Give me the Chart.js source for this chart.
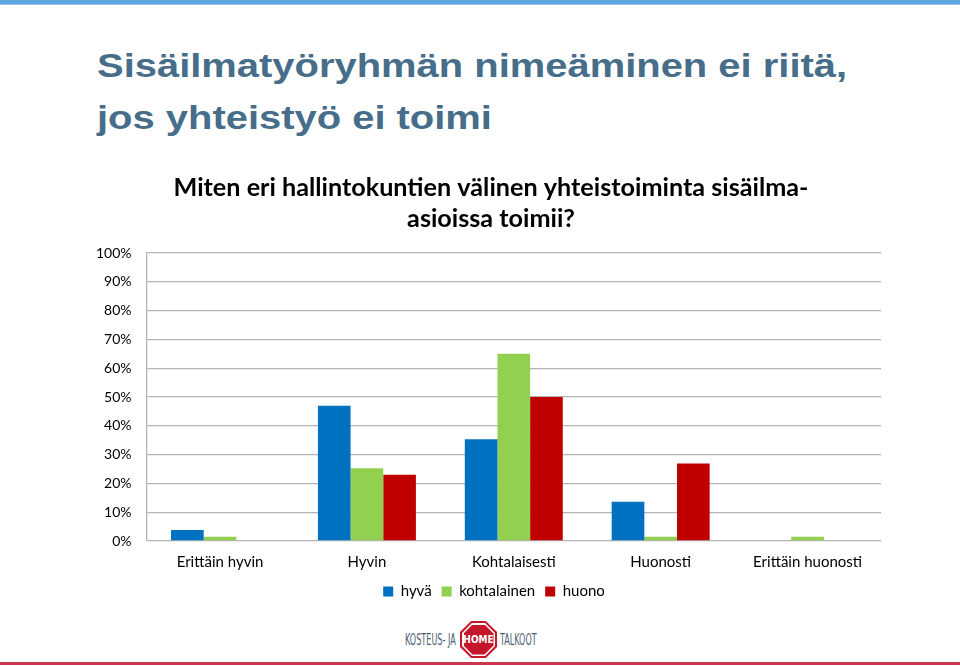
<!DOCTYPE html>
<html>
<head>
<meta charset="utf-8">
<script src="https://cdn.jsdelivr.net/npm/chart.js@4"></script>
<style>
  html, body { margin:0; padding:0; background:#fff; }
  body { width:960px; height:666px; position:relative; overflow:hidden; }
  #topbar { position:absolute; left:0; top:0; width:960px; height:4px; background:#5fa6e3; border-bottom:1px solid #9cc6ec; }
  #title { position:absolute; left:97px; top:40px; font-family:"Liberation Sans", Arial, sans-serif; font-weight:bold; font-size:33px; line-height:52px; color:#466d89; margin:0; white-space:nowrap; transform:scaleX(1.21); transform-origin:left top; }
  #wrap { position:absolute; left:0; top:170px; width:960px; height:448px; }
  .lt { position:absolute; top:630px; font-family:"Liberation Sans Narrow","DejaVu Sans Condensed",sans-serif; color:#4d5e70; font-size:15px; line-height:20px; transform:scaleX(0.6); transform-origin:left center; white-space:nowrap; }
  .oct { position:absolute; left:460px; top:621px; width:37px; height:37px; clip-path:polygon(30% 0,70% 0,100% 30%,100% 70%,70% 100%,30% 100%,0 70%,0 30%); background:#c4172c; }
  .oct .ring { position:absolute; left:2px; top:2px; width:33px; height:33px; clip-path:polygon(30% 0,70% 0,100% 30%,100% 70%,70% 100%,30% 100%,0 70%,0 30%); background:#fff; }
  .oct .in { position:absolute; left:3.5px; top:3.5px; width:30px; height:30px; clip-path:polygon(30% 0,70% 0,100% 30%,100% 70%,70% 100%,30% 100%,0 70%,0 30%); background:#c4172c; color:#fff; font-family:"Liberation Sans Narrow","DejaVu Sans Condensed",sans-serif; font-weight:bold; font-size:10px; display:flex; align-items:center; justify-content:center; }
  #bottomline { position:absolute; left:0; top:662px; width:960px; height:3px; background:#c8374b; }
</style>
</head>
<body>
<div id="topbar"></div>
<h1 id="title">Sisäilmatyöryhmän nimeäminen ei riitä,<br>jos yhteistyö ei toimi</h1>
<div id="wrap"><canvas id="c"></canvas></div>
<span class="lt" style="left:405px;">KOSTEUS- JA</span>
<div class="oct"><div class="ring"></div><div class="in">HOME</div></div>
<span class="lt" style="left:500px;">TALKOOT</span>
<div id="bottomline"></div>
<script>
const categories = ["Erittäin hyvin", "Hyvin", "Kohtalaisesti", "Huonosti", "Erittäin huonosti"];
const seriesNames = ["hyvä", "kohtalainen", "huono"];
const hyva = [3.8, 47, 35.3, 13.6, 0];
const kohtalainen = [1.5, 25.3, 65, 1.5, 1.5];
const huono = [0, 23, 50, 26.9, 0];
const yTicks = [0, 10, 20, 30, 40, 50, 60, 70, 80, 90, 100];
const colors = ["#0070c0", "#92d050", "#c00000"];

const chartFont = "Lato, 'Open Sans', sans-serif";
const blockShift = {
  id: 'blockShift',
  afterLayout(chart) {
    const lg = chart.legend;
    if (lg) { lg.top -= 9; lg.bottom -= 9; lg.left += 13; lg.right += 13; }
    const tb = chart.titleBlock;
    if (tb) { tb.left += 10; tb.right += 10; }
  }
};
new Chart(document.getElementById('c'), {
  type: 'bar',
  data: {
    labels: categories,
    datasets: [hyva, kohtalainen, huono].map((d, i) => ({
      label: seriesNames[i], data: d, backgroundColor: colors[i], borderWidth: 0,
      barPercentage: 1.0, categoryPercentage: 0.667
    }))
  },
  plugins: [blockShift],
  options: {
    responsive: true, maintainAspectRatio: false, animation: false,
    layout: { padding: { left: 81, right: 79, top: 0, bottom: 0 } },
    plugins: {
      title: {
        display: true,
        text: ["Miten eri hallintokuntien välinen yhteistoiminta sisäilma-", "asioissa toimii?"],
        color: "#000", font: { family: chartFont, size: 25.2, weight: 'bold', lineHeight: 1.25 },
        padding: { top: 2, bottom: 18 }
      },
      legend: {
        position: 'bottom',
        labels: { color: "#000", boxWidth: 10, boxHeight: 10, padding: 10, font: { family: chartFont, size: 15 } }
      },
      tooltip: { enabled: false }
    },
    scales: {
      x: {
        grid: { display: false, drawTicks: false },
        border: { display: false },
        ticks: { color: "#000", padding: 12, font: { family: chartFont, size: 15 } }
      },
      y: {
        min: 0, max: 100,
        afterBuildTicks: (axis) => { axis.ticks = yTicks.map(v => ({ value: v })); },
        grid: { color: "#b4b4b4", lineWidth: 1.3, drawTicks: false },
        border: { display: true, color: "#b4b4b4", width: 1.3 },
        ticks: { color: "#000", padding: 15, font: { family: chartFont, size: 14 }, callback: v => v + "%" }
      }
    }
  }
});
</script>
</body>
</html>
